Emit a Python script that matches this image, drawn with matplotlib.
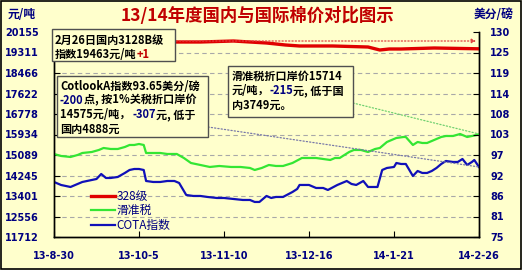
import numpy as np
import pandas as pd
import matplotlib.pyplot as plt
from matplotlib.patches import Rectangle
from matplotlib.text import Annotation

# data (days after 2013-08-30, yuan/ton)
start = pd.Timestamp('2013-08-30')
red_days = [0, 19, 33, 48, 62, 76, 83, 90, 98, 104, 118, 133, 138, 142, 147, 161, 180]
red_vals = [19661, 19702, 19702, 19743, 19743, 19784, 19743, 19702, 19620, 19579,
            19579, 19537, 19414, 19455, 19455, 19496, 19463]

green_days = [0, 3, 7, 10, 12, 16, 19, 21, 24, 27, 30, 32, 34, 36, 38, 39, 42, 45,
              48, 52, 55, 58, 62, 66, 70, 75, 79, 83, 85, 88, 91, 94, 97, 101, 105,
              108, 111, 114, 117, 119, 121, 125, 127, 130, 133, 136, 138, 141, 143,
              145, 148, 149, 152, 154, 156, 158, 160, 162, 164, 166, 169, 172, 174,
              175, 177, 179, 180]
green_vals = [15131, 15049, 15008, 15090, 15172, 15213, 15296, 15378, 15337, 15337,
              15419, 15502, 15502, 15543, 15502, 15172, 15172, 15172, 15131, 15131,
              14966, 14760, 14678, 14596, 14637, 14596, 14596, 14555, 14472, 14555,
              14678, 14637, 14637, 14760, 14966, 14966, 14966, 14925, 14884, 14966,
              14966, 15213, 15296, 15296, 15213, 15337, 15378, 15625, 15708, 15790,
              15831, 15831, 15502, 15625, 15584, 15584, 15666, 15749, 15831, 15872,
              15872, 15955, 15872, 15831, 15872, 15913, 15955]

blue_days = [0, 3, 7, 10, 12, 16, 18, 20, 22, 24, 27, 30, 32, 34, 36, 38, 39, 42,
             45, 48, 51, 53, 56, 59, 62, 65, 69, 72, 76, 80, 83, 85, 87, 90, 92, 94,
             97, 101, 103, 104, 108, 111, 114, 116, 120, 122, 124, 126, 128, 131,
             133, 137, 139, 141, 144, 145, 147, 149, 152, 154, 156, 158, 160, 162,
             164, 166, 169, 171, 173, 175, 177, 178, 180]
blue_vals = [13978, 13854, 13772, 13896, 13978, 14060, 14101, 14307, 14143, 14143,
             14184, 14349, 14472, 14513, 14513, 14472, 14019, 13978, 13978, 14019,
             14019, 13937, 13443, 13402, 13402, 13361, 13319, 13319, 13278, 13237,
             13237, 13155, 13155, 13402, 13319, 13361, 13361, 13566, 13690, 13855,
             13855, 13731, 13731, 13649, 13855, 13937, 14019, 13896, 13855, 14019,
             13772, 13772, 14472, 14555, 14596, 14760, 14719, 14719, 14225, 14431,
             14349, 14349, 14431, 14555, 14719, 14843, 14802, 14802, 14925, 14678,
             14802, 14884, 14596]

left_labels = ['11712', '12556', '13401', '14245', '15089', '15934', '16778',
               '17622', '18466', '19311', '20155']
right_labels = ['75', '81', '86', '92', '97', '103', '108', '114', '119', '125', '130']
x_labels = ['13-8-30', '13-10-5', '13-11-10', '13-12-16', '14-1-21', '14-2-26']

BG = '#FFFFCC'
NAVY = '#000080'
CJK = ['Noto Sans CJK SC', 'DejaVu Sans']
NUM = ['DejaVu Sans', 'Noto Sans CJK SC']
W, H = 522, 270
NOTE_FS = 8


def days(d):
    return start + pd.to_timedelta(d, unit='D')


fig = plt.figure(figsize=(W / 100, H / 100), dpi=100, facecolor=BG)
ax = fig.add_axes([54 / W, 1 - 237 / H, 425 / W, 205 / H])
ax.set_facecolor(BG)

ax.plot(days(red_days), red_vals, color='#E00000', lw=2.4, label='328级', zorder=3)
ax.plot(days(green_days), green_vals, color='#33E633', lw=1.6, label='滑准税', zorder=3)
ax.plot(days(blue_days), blue_vals, color='#1010B8', lw=1.6, label='COTA指数', zorder=3)

left_ticks = np.linspace(11712, 20155, len(left_labels))
ax.set_ylim(left_ticks[0], left_ticks[-1])
ax.set_yticks(left_ticks)
ax.set_yticklabels(left_labels)
for v in left_ticks[1:-1]:
    ax.axhline(v, color='#A8A8A8', lw=0.8, ls=(0, (4, 3)), zorder=1)

x_ticks = [days(36 * i) for i in range(len(x_labels))]
ax.set_xlim(x_ticks[0], x_ticks[-1])
ax.set_xticks(x_ticks)
ax.set_xticklabels(x_labels)

ax2 = ax.twinx()
right_ticks = np.linspace(75, 130, len(right_labels))
ax2.set_ylim(75, 130)
ax2.set_yticks(right_ticks)
ax2.set_yticklabels(right_labels)

for a in (ax, ax2):
    a.spines['top'].set_visible(False)
    for s in a.spines.values():
        s.set_linewidth(1.0)
    a.tick_params(direction='in', length=4, width=0.8, labelcolor=NAVY, labelsize=7)
    for lab in a.get_xticklabels() + a.get_yticklabels():
        lab.set_fontweight('bold')
        lab.set_family(NUM)
ax.tick_params(axis='y', pad=11)
ax.tick_params(axis='x', pad=10)
ax2.tick_params(axis='y', pad=8)

leg = ax.legend(loc='upper left', bbox_to_anchor=(85 / W, 1 - 184 / H),
                bbox_transform=fig.transFigure, frameon=False, borderpad=0,
                handlelength=2.0, handletextpad=0.2, labelspacing=0.12,
                prop={'family': CJK, 'size': 8.5}, labelcolor=NAVY)

# titles and unit labels
fig.text(257 / W, 1 - 16 / H, '13/14年度国内与国际棉价对比图示', ha='center', va='center',
         color='#C00000', fontsize=12.5, fontweight='bold', family=CJK)
fig.text(22 / W, 1 - 15 / H, '元/吨', ha='center', va='center', color=NAVY,
         fontsize=8.5, fontweight='bold', family=CJK)
fig.text(494 / W, 1 - 15 / H, '美分/磅', ha='center', va='center', color=NAVY,
         fontsize=8.5, fontweight='bold', family=CJK)

# dotted pointer lines from the notes to the series ends
ax.annotate('', xy=(476, H - 41), xycoords='figure pixels', xytext=(176, H - 41),
            textcoords='figure pixels',
            arrowprops=dict(arrowstyle='-|>', color='#E04040', lw=0.9, ls=':',
                            mutation_scale=6, shrinkA=0, shrinkB=0))
ax.annotate('', xy=(days(blue_days[-1]), blue_vals[-1]), xytext=(208, H - 127),
            textcoords='figure pixels',
            arrowprops=dict(arrowstyle='-', color='#7878A8', lw=0.9, ls=':',
                            shrinkA=0, shrinkB=0))
ax.annotate('', xy=(days(green_days[-1]), green_vals[-1]), xytext=(353, H - 103),
            textcoords='figure pixels',
            arrowprops=dict(arrowstyle='-', color='#70D070', lw=0.9, ls=':',
                            shrinkA=0, shrinkB=0))


def note_box(x0, y0, x1, y1):
    fig.add_artist(Rectangle((x0 / W, 1 - y1 / H), (x1 - x0) / W, (y1 - y0) / H,
                             transform=fig.transFigure, facecolor=BG,
                             edgecolor='#505050', lw=1.0, zorder=5))


def note_line(x, y, parts):
    prev = None
    for text, color in parts:
        if prev is None:
            prev = fig.text(x / W, 1 - y / H, text, ha='left', va='center',
                            color=color, fontsize=NOTE_FS, fontweight='bold',
                            family=CJK, zorder=6)
        else:
            t = Annotation(text, xy=(1, 0), xycoords=prev, ha='left', va='bottom',
                           color=color, fontsize=NOTE_FS, fontweight='bold',
                           family=CJK, zorder=6)
            fig.add_artist(t)
            prev = t


note_box(52, 29, 175, 61)
note_line(55, 40, [('2月26日国内3128B级', 'black')])
note_line(55, 54, [('指数19463元/吨', 'black'), ('+1', '#C00000')])

note_box(57, 76, 208, 137)
note_line(60, 86, [('CotlookA指数93.65美分/磅', 'black')])
note_line(60, 100, [('-200', NAVY), ('点, 按1%关税折口岸价', 'black')])
note_line(60, 115, [('14575元/吨， ', 'black'), ('-307', NAVY), ('元, 低于', 'black')])
note_line(60, 129, [('国内4888元', 'black')])

note_box(228, 66, 353, 117)
note_line(232, 76, [('滑准税折口岸价15714', 'black')])
note_line(232, 91, [('元/吨，', 'black'), ('-215', NAVY), ('元, 低于国', 'black')])
note_line(232, 105, [('内3749元。', 'black')])

fig.add_artist(Rectangle((0.002, 0.003), 0.996, 0.994, transform=fig.transFigure,
                         fill=False, edgecolor='black', lw=1.2, zorder=10))

fig.savefig('out.png', dpi=100, facecolor=BG)
